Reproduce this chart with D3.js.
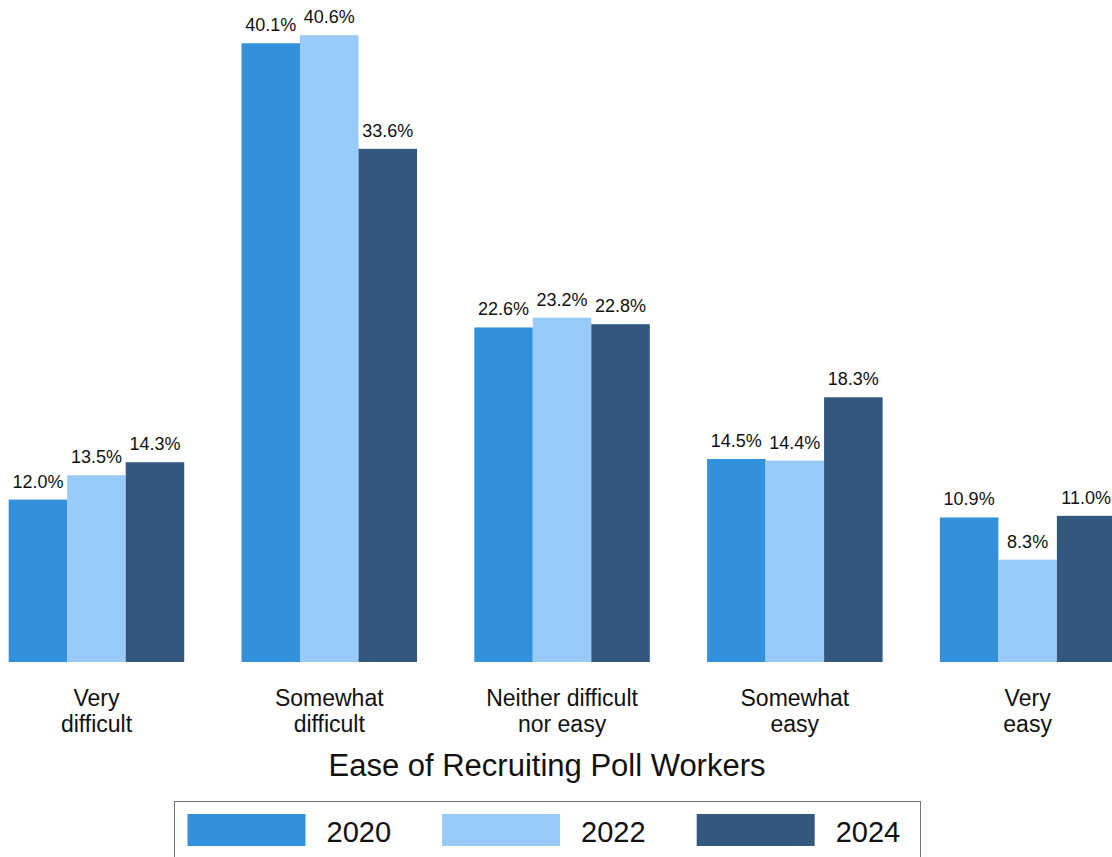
<!DOCTYPE html>
<html>
<head>
<meta charset="utf-8">
<script src="https://cdn.jsdelivr.net/npm/d3@7"></script>
<style>
  body { margin: 0; background: #fff; }
  svg { display: block; font-family: "Liberation Sans", Arial, sans-serif; }
</style>
</head>
<body>
<div id="chart"></div>
<script>
const categories = [["Very", "difficult"], ["Somewhat", "difficult"], ["Neither difficult", "nor easy"], ["Somewhat", "easy"], ["Very", "easy"]];
const years = ["2020", "2022", "2024"];
const values2020 = [12.0, 40.1, 22.6, 14.5, 10.9];
const values2022 = [13.5, 40.6, 23.2, 14.4, 8.3];
const values2024 = [14.3, 33.6, 22.8, 18.3, 11.0];
const colors = ["#3391dc", "#99cbfa", "#34577e"];
const axisTitle = "Ease of Recruiting Poll Workers";

const width = 1112;
const height = 857;

const series = [values2020, values2022, values2024];
const rows = categories.map((c, i) => ({
    key: i,
    label: c,
    vals: years.map((y, j) => ({ year: y, value: series[j][i] }))
}));

const svg = d3.select("#chart")
    .append("svg")
    .attr("width", width)
    .attr("height", height);

// groups
const x0 = d3.scaleBand()
    .domain(rows.map(d => d.key))
    .range([8.7, 1115.4])
    .paddingInner(0.246)
    .paddingOuter(0);

const x1 = d3.scaleBand()
    .domain(years)
    .range([0, x0.bandwidth()]);

// y axis starts at 2, not 0
const y = d3.scaleLinear()
    .domain([2, 42])
    .range([662, 12.4]);

const color = d3.scaleOrdinal().domain(years).range(colors);

const groups = svg.selectAll("g.group")
    .data(rows)
    .enter()
    .append("g")
    .attr("class", "group")
    .attr("transform", d => `translate(${x0(d.key)},0)`);

groups.selectAll("rect")
    .data(d => d.vals)
    .enter()
    .append("rect")
    .attr("x", d => x1(d.year))
    .attr("y", d => y(d.value))
    .attr("width", x1.bandwidth())
    .attr("height", d => y(2) - y(d.value))
    .attr("fill", d => color(d.year));

groups.selectAll("text.val")
    .data(d => d.vals)
    .enter()
    .append("text")
    .attr("class", "val")
    .attr("x", d => x1(d.year) + x1.bandwidth() / 2)
    .attr("y", d => y(d.value) - 12)
    .attr("text-anchor", "middle")
    .attr("font-size", 18)
    .attr("fill", "#111")
    .text(d => d.value.toFixed(1) + "%");

// category labels
const catLabels = svg.selectAll("text.cat")
    .data(rows)
    .enter()
    .append("text")
    .attr("class", "cat")
    .attr("text-anchor", "middle")
    .attr("font-size", 23)
    .attr("fill", "#111");

catLabels.selectAll("tspan")
    .data(d => d.label.map(l => ({ l, cx: x0(d.key) + x0.bandwidth() / 2 })))
    .enter()
    .append("tspan")
    .attr("x", d => d.cx)
    .attr("y", (d, i) => 706 + i * 26)
    .text(d => d.l);

svg.append("text")
    .attr("x", 547)
    .attr("y", 776)
    .attr("text-anchor", "middle")
    .attr("font-size", 31)
    .attr("fill", "#111")
    .text(axisTitle);

// legend
const legend = svg.append("g");

legend.append("rect")
    .attr("x", 174.5)
    .attr("y", 801.5)
    .attr("width", 746)
    .attr("height", 80)
    .attr("fill", "none")
    .attr("stroke", "#777")
    .attr("stroke-width", 1);

const items = legend.selectAll("g.item")
    .data(years)
    .enter()
    .append("g")
    .attr("class", "item")
    .attr("transform", (d, i) => `translate(${187.5 + i * 254.6},814)`);

items.append("rect")
    .attr("width", 118)
    .attr("height", 32)
    .attr("fill", d => color(d));

items.append("text")
    .attr("x", 139)
    .attr("y", 28)
    .attr("font-size", 29)
    .attr("fill", "#111")
    .text(d => d);
</script>
</body>
</html>
